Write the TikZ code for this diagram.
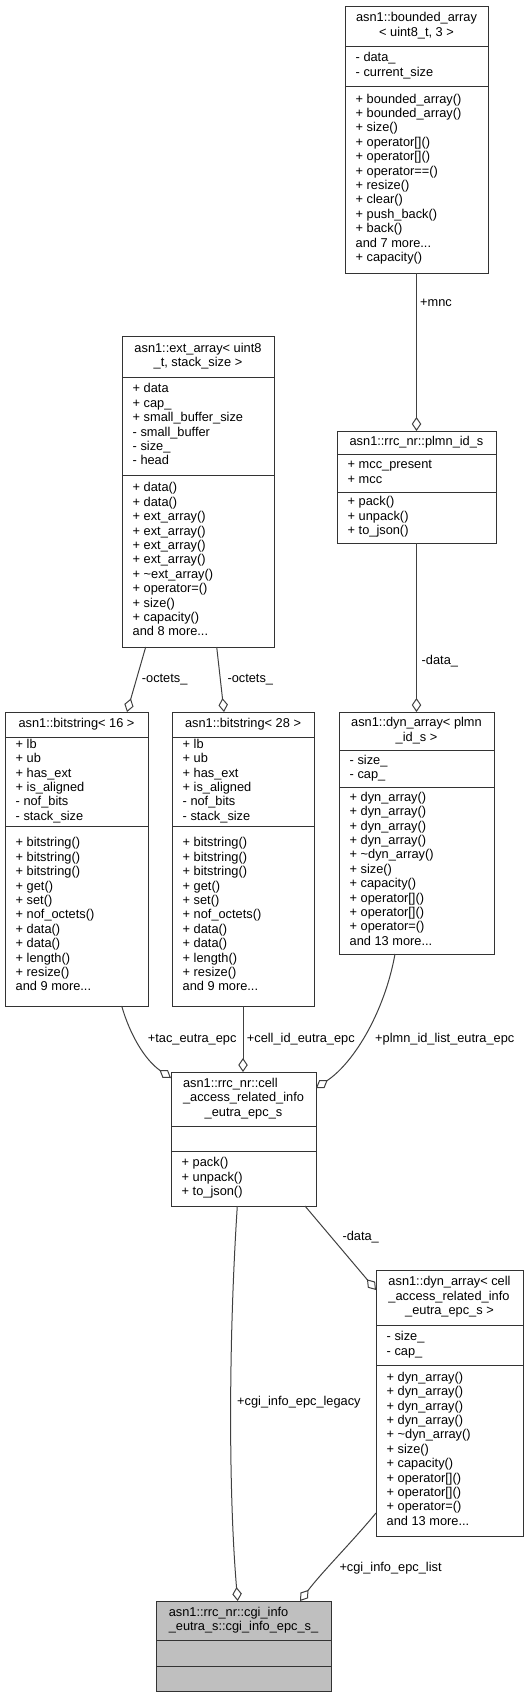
\documentclass[tikz,border=0pt]{standalone}
\usepackage{fontspec}
\setmainfont{Liberation Sans}
\usetikzlibrary{arrows.meta,calc}
\definecolor{boxline}{HTML}{333333}
\definecolor{edgegray}{HTML}{404040}
\definecolor{focusfill}{HTML}{BFBFBF}
\newcommand\umllines[1]{\begin{tabular}{@{}l@{}}#1\end{tabular}}
\newcommand\umllast[1]{\multicolumn{1}{@{}c@{}}{#1}}
% #1 name, #2 x left, #3 y top, #4 width, #5 y line1, #6 y line2, #7 y bottom, #8 fill
\newcommand\umlbox[8]{%
  \node[clsbox, fill=#8, minimum width=#4, minimum height=#7-#3, anchor=north west] (#1) at (#2,#3) {};
  \draw[clsline] (#1.west |- 0,#5) -- (#1.east |- 0,#5);
  \draw[clsline] (#1.west |- 0,#6) -- (#1.east |- 0,#6);
}
\begin{document}
\begin{tikzpicture}[x=1pt,y=-1pt,
  txt/.style={font=\fontsize{12.8}{14.4}\selectfont, inner sep=0pt, text=black},
  clsbox/.style={draw=boxline, line width=1pt, inner sep=0pt, outer sep=0pt},
  clsline/.style={draw=boxline, line width=1pt},
  ttl/.style={txt, anchor=center},
  mem/.style={txt, anchor=west, xshift=10.5pt},
  lbl/.style={txt, anchor=west},
  agg/.style={draw=edgegray, line width=1pt, -{Diamond[fill=white, length=14pt, width=9.5pt]}}]
\useasboundingbox (0,0) rectangle (529,1697);

% bounded_array
\umlbox{ba}{345}{6}{143}{46}{86}{273}{white}
\node[ttl] at (ba.north |- 0,26) {\umllines{asn1::bounded\_array\\\umllast{< uint8\_t, 3 >}}};
\node[mem] at (ba.west |- 0,66) {\umllines{- data\_\\- current\_size}};
\node[mem] at (ba.west |- 0,179.5) {\umllines{+ bounded\_array()\\+ bounded\_array()\\+ size()\\+ operator[]()\\+ operator[]()\\+ operator==()\\+ resize()\\+ clear()\\+ push\_back()\\+ back()\\and 7 more...\\+ capacity()}};

% plmn_id_s
\umlbox{plmn}{337}{431}{159}{454}{492}{543}{white}
\node[ttl] at (plmn.north |- 0,442.5) {\umllines{asn1::rrc\_nr::plmn\_id\_s}};
\node[mem] at (plmn.west |- 0,473) {\umllines{+ mcc\_present\\+ mcc}};
\node[mem] at (plmn.west |- 0,517.5) {\umllines{+ pack()\\+ unpack()\\+ to\_json()}};

% dyn_array< plmn_id_s >
\umlbox{dplmn}{339}{712}{155}{750}{787}{954}{white}
\node[ttl] at (dplmn.north |- 0,731) {\umllines{asn1::dyn\_array< plmn\\\umllast{\_id\_s >}}};
\node[mem] at (dplmn.west |- 0,768.5) {\umllines{- size\_\\- cap\_}};
\node[mem] at (dplmn.west |- 0,870.5) {\umllines{+ dyn\_array()\\+ dyn\_array()\\+ dyn\_array()\\+ dyn\_array()\\+ \textasciitilde dyn\_array()\\+ size()\\+ capacity()\\+ operator[]()\\+ operator[]()\\+ operator=()\\and 13 more...}};

% ext_array
\umlbox{ext}{122}{336}{152}{377}{475}{647}{white}
\node[ttl] at (ext.north |- 0,356.5) {\umllines{asn1::ext\_array< uint8\\\umllast{\_t, stack\_size >}}};
\node[mem] at (ext.west |- 0,426) {\umllines{+ data\\+ cap\_\\+ small\_buffer\_size\\- small\_buffer\\- size\_\\- head}};
\node[mem] at (ext.west |- 0,561) {\umllines{+ data()\\+ data()\\+ ext\_array()\\+ ext\_array()\\+ ext\_array()\\+ ext\_array()\\+ \textasciitilde ext\_array()\\+ operator=()\\+ size()\\+ capacity()\\and 8 more...}};

% bitstring< 16 >
\umlbox{bsa}{5}{712}{143}{737}{826}{1006}{white}
\node[ttl] at (bsa.north |- 0,724.5) {\umllines{asn1::bitstring< 16 >}};
\node[mem] at (bsa.west |- 0,781.5) {\umllines{+ lb\\+ ub\\+ has\_ext\\+ is\_aligned\\- nof\_bits\\- stack\_size}};
\node[mem] at (bsa.west |- 0,916) {\umllines{+ bitstring()\\+ bitstring()\\+ bitstring()\\+ get()\\+ set()\\+ nof\_octets()\\+ data()\\+ data()\\+ length()\\+ resize()\\and 9 more...}};

% bitstring< 28 >
\umlbox{bsb}{172}{712}{142}{737}{826}{1006}{white}
\node[ttl] at (bsb.north |- 0,724.5) {\umllines{asn1::bitstring< 28 >}};
\node[mem] at (bsb.west |- 0,781.5) {\umllines{+ lb\\+ ub\\+ has\_ext\\+ is\_aligned\\- nof\_bits\\- stack\_size}};
\node[mem] at (bsb.west |- 0,916) {\umllines{+ bitstring()\\+ bitstring()\\+ bitstring()\\+ get()\\+ set()\\+ nof\_octets()\\+ data()\\+ data()\\+ length()\\+ resize()\\and 9 more...}};

% cell_access_related_info_eutra_epc_s
\umlbox{cell}{171}{1072}{145}{1126}{1151}{1206}{white}
\node[ttl] at (cell.north |- 0,1099) {\umllines{asn1::rrc\_nr::cell\\\_access\_related\_info\\\umllast{\_eutra\_epc\_s}}};
\node[mem] at (cell.west |- 0,1178.5) {\umllines{+ pack()\\+ unpack()\\+ to\_json()}};

% dyn_array< cell_access_related_info_eutra_epc_s >
\umlbox{dcell}{376}{1270}{147}{1325}{1365}{1536}{white}
\node[ttl] at (dcell.north |- 0,1297.5) {\umllines{asn1::dyn\_array< cell\\\_access\_related\_info\\\umllast{\_eutra\_epc\_s >}}};
\node[mem] at (dcell.west |- 0,1345) {\umllines{- size\_\\- cap\_}};
\node[mem] at (dcell.west |- 0,1450.5) {\umllines{+ dyn\_array()\\+ dyn\_array()\\+ dyn\_array()\\+ dyn\_array()\\+ \textasciitilde dyn\_array()\\+ size()\\+ capacity()\\+ operator[]()\\+ operator[]()\\+ operator=()\\and 13 more...}};

% cgi_info_epc_s_
\umlbox{cgi}{156}{1601}{175}{1640}{1666}{1691}{focusfill}
\node[ttl] at (cgi.north |- 0,1620.5) {\umllines{asn1::rrc\_nr::cgi\_info\\\umllast{\_eutra\_s::cgi\_info\_epc\_s\_}}};

% connectors
\draw[agg] (ba.south) -- (plmn.north);
\node[lbl] at (420,303) {+mnc};
\draw[agg] (plmn.south) -- (dplmn.north);
\node[lbl] at (421.5,661.5) {-data\_};
\draw[agg] (145.7,0 |- ext.south) -- (127,0 |- bsa.north);
\node[lbl] at (141.7,679.3) {-octets\_};
\draw[agg] (216.7,0 |- ext.south) -- (224,0 |- bsb.north);
\node[lbl] at (227.3,679.3) {-octets\_};
\draw[agg] (121.7,0 |- bsa.south) .. controls (130,1035) and (145,1060) .. (cell.west |- 0,1078);
\node[lbl] at (147.7,1039.3) {+tac\_eutra\_epc};
\draw[agg] (243,0 |- bsb.south) -- (243,0 |- cell.north);
\node[lbl] at (246.7,1039.3) {+cell\_id\_eutra\_epc};
\draw[agg] (395,0 |- dplmn.south) .. controls (385,1010) and (355,1062) .. (cell.east |- 0,1088);
\node[lbl] at (375,1039.3) {+plmn\_id\_list\_eutra\_epc};
\draw[agg] (305,0 |- cell.south) -- (dcell.west |- 0,1290);
\node[lbl] at (342.3,1237.3) {-data\_};
\draw[agg] (237.3,0 |- cell.south) .. controls (228,1350) and (229,1500) .. (237.7,0 |- cgi.north);
\node[lbl] at (237,1402) {+cgi\_info\_epc\_legacy};
\draw[agg] (dcell.west |- 0,1513) .. controls (352,1542) and (322,1572) .. (300,0 |- cgi.north);
\node[lbl] at (339.3,1567.7) {+cgi\_info\_epc\_list};
\end{tikzpicture}
\end{document}
